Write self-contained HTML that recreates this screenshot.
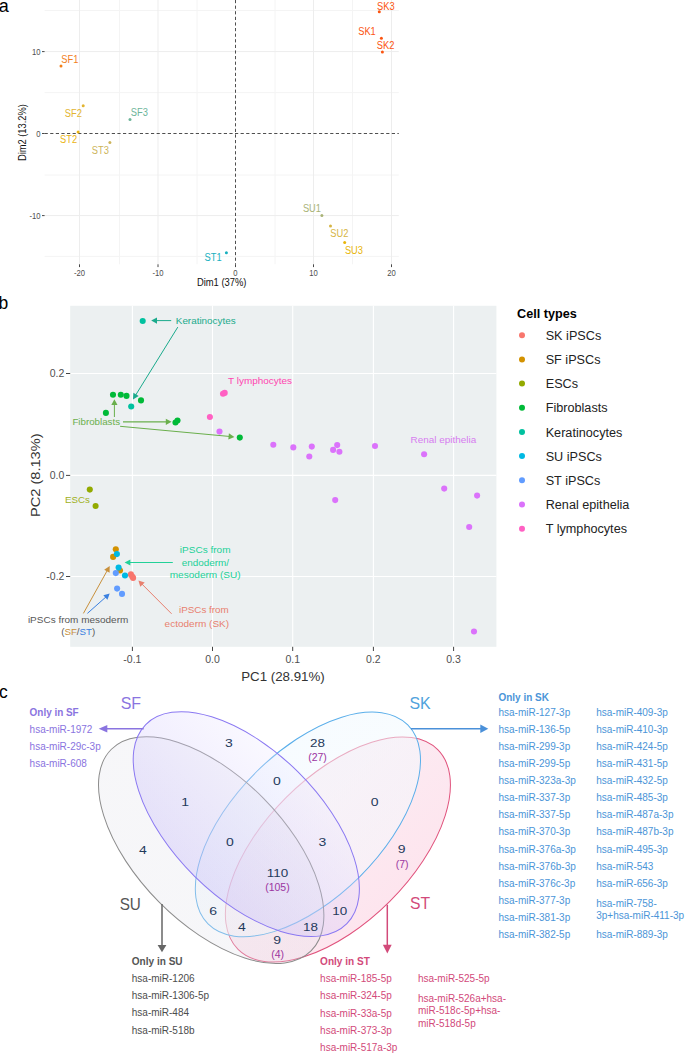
<!DOCTYPE html>
<html><head><meta charset="utf-8"><style>
html,body{margin:0;padding:0;background:#fff;}
body{width:685px;height:1053px;overflow:hidden;}
svg{display:block;font-family:"Liberation Sans",sans-serif;}
</style></head><body>
<svg width="685" height="1053" viewBox="0 0 685 1053">
<defs><linearGradient id="gSU" x1="0" y1="0" x2="0" y2="1"><stop offset="0" stop-color="#e2e2ea" stop-opacity="0.27"/><stop offset="1" stop-color="#e2e2ea" stop-opacity="0.3"/></linearGradient>
<linearGradient id="gSF" x1="0" y1="0" x2="0" y2="1"><stop offset="0" stop-color="#eeeaff" stop-opacity="0.3"/><stop offset="1" stop-color="#bcaefa" stop-opacity="0.31"/></linearGradient>
<linearGradient id="gSK" x1="0" y1="0" x2="0" y2="1"><stop offset="0" stop-color="#f0f9ff" stop-opacity="0.55"/><stop offset="1" stop-color="#f4f9fd" stop-opacity="0.5"/></linearGradient>
<linearGradient id="gST" x1="0" y1="0" x2="0" y2="1"><stop offset="0" stop-color="#fcecf3" stop-opacity="1"/><stop offset="1" stop-color="#fde5ee" stop-opacity="1"/></linearGradient></defs>
<rect width="685" height="1053" fill="#fff"/>
<g id="pa">
<line x1="119.50" y1="0.00" x2="119.50" y2="264.30" stroke="#f4f4f4" stroke-width="1"/>
<line x1="197.00" y1="0.00" x2="197.00" y2="264.30" stroke="#f4f4f4" stroke-width="1"/>
<line x1="275.00" y1="0.00" x2="275.00" y2="264.30" stroke="#f4f4f4" stroke-width="1"/>
<line x1="352.50" y1="0.00" x2="352.50" y2="264.30" stroke="#f4f4f4" stroke-width="1"/>
<line x1="44.60" y1="10.50" x2="398.80" y2="10.50" stroke="#f4f4f4" stroke-width="1"/>
<line x1="44.60" y1="92.60" x2="398.80" y2="92.60" stroke="#f4f4f4" stroke-width="1"/>
<line x1="44.60" y1="175.00" x2="398.80" y2="175.00" stroke="#f4f4f4" stroke-width="1"/>
<line x1="44.60" y1="256.40" x2="398.80" y2="256.40" stroke="#f4f4f4" stroke-width="1"/>
<line x1="79.50" y1="0.00" x2="79.50" y2="264.30" stroke="#ededed" stroke-width="1"/>
<line x1="158.00" y1="0.00" x2="158.00" y2="264.30" stroke="#ededed" stroke-width="1"/>
<line x1="313.50" y1="0.00" x2="313.50" y2="264.30" stroke="#ededed" stroke-width="1"/>
<line x1="391.50" y1="0.00" x2="391.50" y2="264.30" stroke="#ededed" stroke-width="1"/>
<line x1="44.60" y1="51.60" x2="398.80" y2="51.60" stroke="#ededed" stroke-width="1"/>
<line x1="44.60" y1="215.60" x2="398.80" y2="215.60" stroke="#ededed" stroke-width="1"/>
<line x1="235.50" y1="0.00" x2="235.50" y2="264.30" stroke="#222" stroke-width="0.8" stroke-dasharray="3.2,2.4"/>
<line x1="44.60" y1="133.50" x2="398.80" y2="133.50" stroke="#222" stroke-width="0.8" stroke-dasharray="3.2,2.4"/>
<line x1="79.50" y1="264.30" x2="79.50" y2="267.10" stroke="#333" stroke-width="0.9"/>
<text x="79.50" y="276.20" font-size="8.7" fill="#4d4d4d" text-anchor="middle" textLength="11.06" lengthAdjust="spacingAndGlyphs">-20</text>
<line x1="158.00" y1="264.30" x2="158.00" y2="267.10" stroke="#333" stroke-width="0.9"/>
<text x="158.00" y="276.20" font-size="8.7" fill="#4d4d4d" text-anchor="middle" textLength="11.06" lengthAdjust="spacingAndGlyphs">-10</text>
<line x1="235.50" y1="264.30" x2="235.50" y2="267.10" stroke="#333" stroke-width="0.9"/>
<text x="235.50" y="276.20" font-size="8.7" fill="#4d4d4d" text-anchor="middle" textLength="4.26" lengthAdjust="spacingAndGlyphs">0</text>
<line x1="313.50" y1="264.30" x2="313.50" y2="267.10" stroke="#333" stroke-width="0.9"/>
<text x="313.50" y="276.20" font-size="8.7" fill="#4d4d4d" text-anchor="middle" textLength="8.51" lengthAdjust="spacingAndGlyphs">10</text>
<line x1="391.50" y1="264.30" x2="391.50" y2="267.10" stroke="#333" stroke-width="0.9"/>
<text x="391.50" y="276.20" font-size="8.7" fill="#4d4d4d" text-anchor="middle" textLength="8.51" lengthAdjust="spacingAndGlyphs">20</text>
<line x1="42.00" y1="51.60" x2="44.60" y2="51.60" stroke="#333" stroke-width="0.9"/>
<text x="40.50" y="54.70" font-size="8.7" fill="#4d4d4d" text-anchor="end" textLength="8.51" lengthAdjust="spacingAndGlyphs">10</text>
<line x1="42.00" y1="133.50" x2="44.60" y2="133.50" stroke="#333" stroke-width="0.9"/>
<text x="40.50" y="136.60" font-size="8.7" fill="#4d4d4d" text-anchor="end" textLength="4.26" lengthAdjust="spacingAndGlyphs">0</text>
<line x1="42.00" y1="215.60" x2="44.60" y2="215.60" stroke="#333" stroke-width="0.9"/>
<text x="40.50" y="218.70" font-size="8.7" fill="#4d4d4d" text-anchor="end" textLength="11.06" lengthAdjust="spacingAndGlyphs">-10</text>
<text x="221.70" y="286.40" font-size="10" fill="#111" text-anchor="middle" textLength="49.50" lengthAdjust="spacingAndGlyphs">Dim1 (37%)</text>
<text x="26.20" y="132.60" font-size="10" fill="#111" text-anchor="middle" textLength="57.00" lengthAdjust="spacingAndGlyphs" transform="rotate(-90 26.20 132.60)">Dim2 (13.2%)</text>
<text x="-1.20" y="11.80" font-size="18" fill="#000">a</text>
<circle cx="379.30" cy="11.75" r="1.5" fill="#fb5410"/>
<text x="377.00" y="10.20" font-size="10" fill="#fb5410" textLength="17.59" lengthAdjust="spacingAndGlyphs">SK3</text>
<circle cx="381.40" cy="38.30" r="1.5" fill="#fb5410"/>
<text x="358.20" y="34.70" font-size="10" fill="#fb5410" textLength="17.59" lengthAdjust="spacingAndGlyphs">SK1</text>
<circle cx="382.40" cy="52.10" r="1.5" fill="#fb5410"/>
<text x="376.80" y="49.00" font-size="10" fill="#fb5410" textLength="17.59" lengthAdjust="spacingAndGlyphs">SK2</text>
<circle cx="61.00" cy="66.00" r="1.5" fill="#f2801c"/>
<text x="61.30" y="63.00" font-size="10" fill="#f2801c" textLength="17.07" lengthAdjust="spacingAndGlyphs">SF1</text>
<circle cx="83.20" cy="105.80" r="1.5" fill="#e2b431"/>
<text x="64.80" y="116.70" font-size="10" fill="#e2b431" textLength="17.07" lengthAdjust="spacingAndGlyphs">SF2</text>
<circle cx="130.00" cy="119.40" r="1.5" fill="#6db59a"/>
<text x="130.80" y="115.90" font-size="10" fill="#6db59a" textLength="17.07" lengthAdjust="spacingAndGlyphs">SF3</text>
<circle cx="78.10" cy="132.00" r="1.5" fill="#eab413"/>
<text x="60.00" y="143.20" font-size="10" fill="#eab413" textLength="17.07" lengthAdjust="spacingAndGlyphs">ST2</text>
<circle cx="109.90" cy="142.40" r="1.5" fill="#cdb55c"/>
<text x="91.80" y="153.60" font-size="10" fill="#cdb55c" textLength="17.07" lengthAdjust="spacingAndGlyphs">ST3</text>
<circle cx="321.90" cy="215.60" r="1.5" fill="#a9b377"/>
<text x="302.90" y="212.30" font-size="10" fill="#a9b377" textLength="18.10" lengthAdjust="spacingAndGlyphs">SU1</text>
<circle cx="330.50" cy="226.10" r="1.5" fill="#d6b545"/>
<text x="330.30" y="236.80" font-size="10" fill="#d6b545" textLength="18.10" lengthAdjust="spacingAndGlyphs">SU2</text>
<circle cx="344.70" cy="242.60" r="1.5" fill="#e8b50a"/>
<text x="344.90" y="253.50" font-size="10" fill="#e8b50a" textLength="18.10" lengthAdjust="spacingAndGlyphs">SU3</text>
<circle cx="226.40" cy="252.70" r="1.5" fill="#17b0bf"/>
<text x="204.60" y="261.40" font-size="10" fill="#17b0bf" textLength="17.07" lengthAdjust="spacingAndGlyphs">ST1</text>
</g>
<g id="pb">
<rect x="70.2" y="305.8" width="426.20" height="341.00" fill="#ecf0f1"/>
<line x1="132.40" y1="305.80" x2="132.40" y2="646.80" stroke="#fff" stroke-width="1.1"/>
<line x1="212.50" y1="305.80" x2="212.50" y2="646.80" stroke="#fff" stroke-width="1.1"/>
<line x1="292.70" y1="305.80" x2="292.70" y2="646.80" stroke="#fff" stroke-width="1.1"/>
<line x1="373.40" y1="305.80" x2="373.40" y2="646.80" stroke="#fff" stroke-width="1.1"/>
<line x1="453.60" y1="305.80" x2="453.60" y2="646.80" stroke="#fff" stroke-width="1.1"/>
<line x1="70.20" y1="373.50" x2="496.40" y2="373.50" stroke="#fff" stroke-width="1.1"/>
<line x1="70.20" y1="475.40" x2="496.40" y2="475.40" stroke="#fff" stroke-width="1.1"/>
<line x1="70.20" y1="576.50" x2="496.40" y2="576.50" stroke="#fff" stroke-width="1.1"/>
<line x1="132.40" y1="646.80" x2="132.40" y2="651.00" stroke="#444" stroke-width="1"/>
<text x="132.40" y="662.80" font-size="10.5" fill="#505050" text-anchor="middle">-0.1</text>
<line x1="212.50" y1="646.80" x2="212.50" y2="651.00" stroke="#444" stroke-width="1"/>
<text x="212.50" y="662.80" font-size="10.5" fill="#505050" text-anchor="middle">0.0</text>
<line x1="292.70" y1="646.80" x2="292.70" y2="651.00" stroke="#444" stroke-width="1"/>
<text x="292.70" y="662.80" font-size="10.5" fill="#505050" text-anchor="middle">0.1</text>
<line x1="373.40" y1="646.80" x2="373.40" y2="651.00" stroke="#444" stroke-width="1"/>
<text x="373.40" y="662.80" font-size="10.5" fill="#505050" text-anchor="middle">0.2</text>
<line x1="453.60" y1="646.80" x2="453.60" y2="651.00" stroke="#444" stroke-width="1"/>
<text x="453.60" y="662.80" font-size="10.5" fill="#505050" text-anchor="middle">0.3</text>
<line x1="66.00" y1="373.50" x2="70.20" y2="373.50" stroke="#444" stroke-width="1"/>
<text x="64.40" y="377.20" font-size="10.5" fill="#505050" text-anchor="end">0.2</text>
<line x1="66.00" y1="475.40" x2="70.20" y2="475.40" stroke="#444" stroke-width="1"/>
<text x="64.40" y="479.10" font-size="10.5" fill="#505050" text-anchor="end">0.0</text>
<line x1="66.00" y1="576.50" x2="70.20" y2="576.50" stroke="#444" stroke-width="1"/>
<text x="64.40" y="580.20" font-size="10.5" fill="#505050" text-anchor="end">-0.2</text>
<text x="283.00" y="680.60" font-size="12.8" fill="#333" text-anchor="middle" textLength="83.60" lengthAdjust="spacingAndGlyphs">PC1 (28.91%)</text>
<text x="39.80" y="475.20" font-size="12.8" fill="#333" text-anchor="middle" textLength="83.60" lengthAdjust="spacingAndGlyphs" transform="rotate(-90 39.80 475.20)">PC2 (8.13%)</text>
<text x="-1.60" y="308.80" font-size="17.5" fill="#000">b</text>
<circle cx="130.90" cy="574.40" r="3.05" fill="#f8766d"/>
<circle cx="132.20" cy="576.60" r="3.05" fill="#f8766d"/>
<circle cx="133.10" cy="577.90" r="3.05" fill="#f8766d"/>
<circle cx="115.80" cy="549.20" r="3.05" fill="#d39200"/>
<circle cx="113.10" cy="556.90" r="3.05" fill="#d39200"/>
<circle cx="120.00" cy="570.50" r="3.05" fill="#d39200"/>
<circle cx="89.80" cy="489.60" r="3.05" fill="#93aa00"/>
<circle cx="95.60" cy="506.00" r="3.05" fill="#93aa00"/>
<circle cx="113.00" cy="394.80" r="3.05" fill="#00ba38"/>
<circle cx="120.80" cy="394.80" r="3.05" fill="#00ba38"/>
<circle cx="126.50" cy="395.90" r="3.05" fill="#00ba38"/>
<circle cx="141.00" cy="400.40" r="3.05" fill="#00ba38"/>
<circle cx="105.90" cy="412.90" r="3.05" fill="#00ba38"/>
<circle cx="175.50" cy="422.50" r="3.05" fill="#00ba38"/>
<circle cx="177.50" cy="420.50" r="3.05" fill="#00ba38"/>
<circle cx="239.80" cy="437.60" r="3.05" fill="#00ba38"/>
<circle cx="142.70" cy="321.00" r="3.05" fill="#00c19f"/>
<circle cx="131.20" cy="406.50" r="3.05" fill="#00c19f"/>
<circle cx="116.90" cy="554.10" r="3.05" fill="#00b9e3"/>
<circle cx="118.60" cy="567.60" r="3.05" fill="#00b9e3"/>
<circle cx="125.00" cy="575.50" r="3.05" fill="#00b9e3"/>
<circle cx="115.80" cy="573.10" r="3.05" fill="#619cff"/>
<circle cx="117.10" cy="588.60" r="3.05" fill="#619cff"/>
<circle cx="122.00" cy="593.90" r="3.05" fill="#619cff"/>
<circle cx="219.50" cy="431.60" r="3.05" fill="#db72fb"/>
<circle cx="273.30" cy="444.80" r="3.05" fill="#db72fb"/>
<circle cx="293.30" cy="447.40" r="3.05" fill="#db72fb"/>
<circle cx="311.80" cy="446.60" r="3.05" fill="#db72fb"/>
<circle cx="309.30" cy="456.50" r="3.05" fill="#db72fb"/>
<circle cx="333.10" cy="449.90" r="3.05" fill="#db72fb"/>
<circle cx="337.20" cy="445.10" r="3.05" fill="#db72fb"/>
<circle cx="339.40" cy="451.80" r="3.05" fill="#db72fb"/>
<circle cx="375.00" cy="446.00" r="3.05" fill="#db72fb"/>
<circle cx="424.10" cy="454.30" r="3.05" fill="#db72fb"/>
<circle cx="444.20" cy="488.60" r="3.05" fill="#db72fb"/>
<circle cx="477.10" cy="495.60" r="3.05" fill="#db72fb"/>
<circle cx="469.20" cy="527.00" r="3.05" fill="#db72fb"/>
<circle cx="335.20" cy="500.10" r="3.05" fill="#db72fb"/>
<circle cx="474.00" cy="631.50" r="3.05" fill="#db72fb"/>
<circle cx="209.90" cy="417.00" r="3.05" fill="#ff61c3"/>
<circle cx="223.00" cy="393.80" r="3.05" fill="#ff61c3"/>
<circle cx="224.70" cy="392.90" r="3.05" fill="#ff61c3"/>
<text x="175.80" y="323.90" font-size="9.8" fill="#1aaa8c" textLength="59.80" lengthAdjust="spacingAndGlyphs">Keratinocytes</text>
<line x1="171.20" y1="320.60" x2="156.00" y2="320.60" stroke="#1aaa8c" stroke-width="1"/>
<path d="M151.20,320.60 L157.00,317.50 L157.00,323.70 Z" fill="#1aaa8c"/>
<line x1="177.80" y1="327.10" x2="135.53" y2="395.32" stroke="#1aaa8c" stroke-width="1"/>
<path d="M133.00,399.40 L133.42,392.84 L138.69,396.10 Z" fill="#1aaa8c"/>
<text x="72.40" y="425.00" font-size="9.8" fill="#6aaf4c" textLength="47.70" lengthAdjust="spacingAndGlyphs">Fibroblasts</text>
<line x1="114.40" y1="417.00" x2="114.40" y2="404.00" stroke="#6aaf4c" stroke-width="1"/>
<path d="M114.40,399.20 L117.50,405.00 L111.30,405.00 Z" fill="#6aaf4c"/>
<line x1="123.00" y1="421.80" x2="166.80" y2="421.80" stroke="#6aaf4c" stroke-width="1.3"/>
<path d="M171.60,421.80 L165.80,424.90 L165.80,418.70 Z" fill="#6aaf4c"/>
<line x1="120.10" y1="426.30" x2="229.62" y2="436.46" stroke="#6aaf4c" stroke-width="1"/>
<path d="M234.40,436.90 L228.34,439.45 L228.91,433.28 Z" fill="#6aaf4c"/>
<text x="228.10" y="384.30" font-size="9.9" fill="#ff45b0" textLength="63.90" lengthAdjust="spacingAndGlyphs">T lymphocytes</text>
<text x="410.60" y="442.70" font-size="9.9" fill="#d77cf0" textLength="65.60" lengthAdjust="spacingAndGlyphs">Renal epithelia</text>
<text x="65.10" y="502.80" font-size="9.8" fill="#9fb01c" textLength="24.80" lengthAdjust="spacingAndGlyphs">ESCs</text>
<text x="205.20" y="553.40" font-size="9.8" fill="#22d198" text-anchor="middle" textLength="50.70" lengthAdjust="spacingAndGlyphs">iPSCs from</text>
<text x="205.40" y="565.50" font-size="9.8" fill="#22d198" text-anchor="middle" textLength="47.40" lengthAdjust="spacingAndGlyphs">endoderm/</text>
<text x="205.20" y="577.70" font-size="9.8" fill="#22d198" text-anchor="middle" textLength="71.00" lengthAdjust="spacingAndGlyphs">mesoderm (SU)</text>
<line x1="172.80" y1="562.50" x2="129.40" y2="562.50" stroke="#22d198" stroke-width="1"/>
<path d="M124.60,562.50 L130.40,559.40 L130.40,565.60 Z" fill="#22d198"/>
<text x="228.80" y="613.40" font-size="9.8" fill="#e8806f" text-anchor="end" textLength="49.80" lengthAdjust="spacingAndGlyphs">iPSCs from</text>
<text x="229.10" y="626.60" font-size="9.8" fill="#e8806f" text-anchor="end" textLength="64.50" lengthAdjust="spacingAndGlyphs">ectoderm (SK)</text>
<line x1="171.60" y1="613.80" x2="141.79" y2="583.90" stroke="#e8806f" stroke-width="1"/>
<path d="M138.40,580.50 L144.69,582.42 L140.30,586.80 Z" fill="#e8806f"/>
<text x="78.10" y="622.70" font-size="9.8" fill="#585858" text-anchor="middle" textLength="100.40" lengthAdjust="spacingAndGlyphs">iPSCs from mesoderm</text>
<text x="78.2" y="635.0" font-size="9.8" fill="#585858" text-anchor="middle" textLength="34.1" lengthAdjust="spacingAndGlyphs">(<tspan fill="#c8903c">SF</tspan>/<tspan fill="#3a80e0">ST</tspan>)</text>
<line x1="83.40" y1="613.40" x2="107.37" y2="570.30" stroke="#c8903c" stroke-width="1"/>
<path d="M109.70,566.10 L109.59,572.68 L104.17,569.66 Z" fill="#c8903c"/>
<line x1="87.40" y1="613.40" x2="106.11" y2="596.79" stroke="#3a80e0" stroke-width="1"/>
<path d="M109.70,593.60 L107.42,599.77 L103.30,595.13 Z" fill="#3a80e0"/>
<text x="517.10" y="318.00" font-size="12.5" fill="#000" font-weight="bold" textLength="59.70" lengthAdjust="spacingAndGlyphs">Cell types</text>
<circle cx="522.00" cy="335.20" r="3.0" fill="#f8766d"/>
<text x="545.70" y="339.90" font-size="12.5" fill="#222" textLength="55.54" lengthAdjust="spacingAndGlyphs">SK iPSCs</text>
<circle cx="522.00" cy="359.38" r="3.0" fill="#d39200"/>
<text x="545.70" y="364.08" font-size="12.5" fill="#222" textLength="54.83" lengthAdjust="spacingAndGlyphs">SF iPSCs</text>
<circle cx="522.00" cy="383.56" r="3.0" fill="#93aa00"/>
<text x="545.70" y="388.26" font-size="12.5" fill="#222" textLength="32.34" lengthAdjust="spacingAndGlyphs">ESCs</text>
<circle cx="522.00" cy="407.74" r="3.0" fill="#00ba38"/>
<text x="545.70" y="412.44" font-size="12.5" fill="#222" textLength="61.86" lengthAdjust="spacingAndGlyphs">Fibroblasts</text>
<circle cx="522.00" cy="431.92" r="3.0" fill="#00c19f"/>
<text x="545.70" y="436.62" font-size="12.5" fill="#222" textLength="76.64" lengthAdjust="spacingAndGlyphs">Keratinocytes</text>
<circle cx="522.00" cy="456.10" r="3.0" fill="#00b9e3"/>
<text x="545.70" y="460.80" font-size="12.5" fill="#222" textLength="56.24" lengthAdjust="spacingAndGlyphs">SU iPSCs</text>
<circle cx="522.00" cy="480.28" r="3.0" fill="#619cff"/>
<text x="545.70" y="484.98" font-size="12.5" fill="#222" textLength="54.60" lengthAdjust="spacingAndGlyphs">ST iPSCs</text>
<circle cx="522.00" cy="504.46" r="3.0" fill="#db72fb"/>
<text x="545.70" y="509.16" font-size="12.5" fill="#222" textLength="83.68" lengthAdjust="spacingAndGlyphs">Renal epithelia</text>
<circle cx="522.00" cy="528.64" r="3.0" fill="#ff61c3"/>
<text x="545.70" y="533.34" font-size="12.5" fill="#222" textLength="81.31" lengthAdjust="spacingAndGlyphs">T lymphocytes</text>
</g>
<g id="pc">
<text x="-1.00" y="697.60" font-size="17.5" fill="#000">c</text>
<ellipse cx="337.9" cy="849.5" rx="141.2" ry="73.4" transform="rotate(-45.0 337.9 849.5)" fill="url(#gST)" stroke="#e0527c" stroke-width="1"/>
<ellipse cx="307.9" cy="824.4" rx="141.0" ry="73.6" transform="rotate(-44.9 307.9 824.4)" fill="url(#gSK)" stroke="#5aaeea" stroke-width="1"/>
<ellipse cx="211.2" cy="850.1" rx="141.9" ry="73.6" transform="rotate(45.3 211.2 850.1)" fill="url(#gSU)" stroke="#8c8c8c" stroke-width="1"/>
<ellipse cx="246.3" cy="824.1" rx="141.5" ry="73.5" transform="rotate(44.7 246.3 824.1)" fill="url(#gSF)" stroke="#8a78f2" stroke-width="1"/>
<text x="228.80" y="746.90" font-size="11.2" fill="#1f3a5c" text-anchor="middle" textLength="7.79" lengthAdjust="spacingAndGlyphs">3</text>
<text x="317.50" y="747.20" font-size="11.2" fill="#1f3a5c" text-anchor="middle" textLength="14.95" lengthAdjust="spacingAndGlyphs">28</text>
<text x="276.80" y="784.70" font-size="11.2" fill="#1f3a5c" text-anchor="middle" textLength="7.79" lengthAdjust="spacingAndGlyphs">0</text>
<text x="185.10" y="805.80" font-size="11.2" fill="#1f3a5c" text-anchor="middle" textLength="7.79" lengthAdjust="spacingAndGlyphs">1</text>
<text x="374.70" y="805.80" font-size="11.2" fill="#1f3a5c" text-anchor="middle" textLength="7.79" lengthAdjust="spacingAndGlyphs">0</text>
<text x="142.90" y="854.00" font-size="11.2" fill="#1f3a5c" text-anchor="middle" textLength="7.79" lengthAdjust="spacingAndGlyphs">4</text>
<text x="229.90" y="845.60" font-size="11.2" fill="#1f3a5c" text-anchor="middle" textLength="7.79" lengthAdjust="spacingAndGlyphs">0</text>
<text x="322.40" y="845.60" font-size="11.2" fill="#1f3a5c" text-anchor="middle" textLength="7.79" lengthAdjust="spacingAndGlyphs">3</text>
<text x="401.70" y="852.90" font-size="11.2" fill="#1f3a5c" text-anchor="middle" textLength="7.79" lengthAdjust="spacingAndGlyphs">9</text>
<text x="277.40" y="876.90" font-size="11.2" fill="#1f3a5c" text-anchor="middle" textLength="21.42" lengthAdjust="spacingAndGlyphs">110</text>
<text x="213.10" y="915.00" font-size="11.2" fill="#1f3a5c" text-anchor="middle" textLength="7.79" lengthAdjust="spacingAndGlyphs">6</text>
<text x="339.70" y="915.10" font-size="11.2" fill="#1f3a5c" text-anchor="middle" textLength="14.95" lengthAdjust="spacingAndGlyphs">10</text>
<text x="242.00" y="931.00" font-size="11.2" fill="#1f3a5c" text-anchor="middle" textLength="7.79" lengthAdjust="spacingAndGlyphs">4</text>
<text x="310.50" y="930.60" font-size="11.2" fill="#1f3a5c" text-anchor="middle" textLength="14.95" lengthAdjust="spacingAndGlyphs">18</text>
<text x="277.10" y="943.60" font-size="11.2" fill="#1f3a5c" text-anchor="middle" textLength="7.79" lengthAdjust="spacingAndGlyphs">9</text>
<text x="317.50" y="760.80" font-size="10.5" fill="#9b35a0" text-anchor="middle">(27)</text>
<text x="402.20" y="867.70" font-size="10.5" fill="#9b35a0" text-anchor="middle">(7)</text>
<text x="277.40" y="891.10" font-size="10.5" fill="#9b35a0" text-anchor="middle">(105)</text>
<text x="277.60" y="957.90" font-size="10.5" fill="#9b35a0" text-anchor="middle">(4)</text>
<text x="120.70" y="708.60" font-size="16.5" fill="#8a74e0" textLength="20.40" lengthAdjust="spacingAndGlyphs">SF</text>
<text x="409.50" y="708.70" font-size="16.5" fill="#4fa2dc" textLength="21.20" lengthAdjust="spacingAndGlyphs">SK</text>
<text x="119.70" y="909.60" font-size="16.5" fill="#555" textLength="21.20" lengthAdjust="spacingAndGlyphs">SU</text>
<text x="410.10" y="909.30" font-size="16.5" fill="#d24a7a" textLength="20.10" lengthAdjust="spacingAndGlyphs">ST</text>
<line x1="143.70" y1="728.80" x2="106.30" y2="728.80" stroke="#8a74e0" stroke-width="1.5"/>
<path d="M98.70,728.80 L107.30,725.00 L107.30,732.60 Z" fill="#8a74e0"/>
<line x1="411.00" y1="728.70" x2="481.30" y2="728.70" stroke="#4a90d9" stroke-width="1.5"/>
<path d="M488.30,728.70 L480.30,732.90 L480.30,724.50 Z" fill="#4a90d9"/>
<line x1="162.00" y1="904.10" x2="162.00" y2="946.00" stroke="#666" stroke-width="1.5"/>
<path d="M162.00,952.30 L157.60,945.00 L166.40,945.00 Z" fill="#666"/>
<line x1="387.30" y1="904.70" x2="387.30" y2="945.70" stroke="#d24a7a" stroke-width="1.5"/>
<path d="M387.30,953.40 L382.90,944.70 L391.70,944.70 Z" fill="#d24a7a"/>
<text x="29.60" y="716.40" font-size="10" fill="#8a74e0" font-weight="bold" textLength="49.10" lengthAdjust="spacingAndGlyphs">Only in SF</text>
<text x="29.60" y="733.10" font-size="10" fill="#8a74e0">hsa-miR-1972</text>
<text x="29.60" y="750.10" font-size="10" fill="#8a74e0">hsa-miR-29c-3p</text>
<text x="29.60" y="767.10" font-size="10" fill="#8a74e0">hsa-miR-608</text>
<text x="498.50" y="700.70" font-size="10" fill="#4b95d8" font-weight="bold" textLength="50.40" lengthAdjust="spacingAndGlyphs">Only in SK</text>
<text x="498.50" y="715.70" font-size="10" fill="#4b95d8">hsa-miR-127-3p</text>
<text x="498.50" y="732.80" font-size="10" fill="#4b95d8">hsa-miR-136-5p</text>
<text x="498.50" y="749.90" font-size="10" fill="#4b95d8">hsa-miR-299-3p</text>
<text x="498.50" y="767.00" font-size="10" fill="#4b95d8">hsa-miR-299-5p</text>
<text x="498.50" y="784.10" font-size="10" fill="#4b95d8">hsa-miR-323a-3p</text>
<text x="498.50" y="801.20" font-size="10" fill="#4b95d8">hsa-miR-337-3p</text>
<text x="498.50" y="818.30" font-size="10" fill="#4b95d8">hsa-miR-337-5p</text>
<text x="498.50" y="835.40" font-size="10" fill="#4b95d8">hsa-miR-370-3p</text>
<text x="498.50" y="852.50" font-size="10" fill="#4b95d8">hsa-miR-376a-3p</text>
<text x="498.50" y="869.60" font-size="10" fill="#4b95d8">hsa-miR-376b-3p</text>
<text x="498.50" y="886.70" font-size="10" fill="#4b95d8">hsa-miR-376c-3p</text>
<text x="498.50" y="903.80" font-size="10" fill="#4b95d8">hsa-miR-377-3p</text>
<text x="498.50" y="920.90" font-size="10" fill="#4b95d8">hsa-miR-381-3p</text>
<text x="498.50" y="938.00" font-size="10" fill="#4b95d8">hsa-miR-382-5p</text>
<text x="596.20" y="715.70" font-size="10" fill="#4b95d8">hsa-miR-409-3p</text>
<text x="596.20" y="732.80" font-size="10" fill="#4b95d8">hsa-miR-410-3p</text>
<text x="596.20" y="749.90" font-size="10" fill="#4b95d8">hsa-miR-424-5p</text>
<text x="596.20" y="767.00" font-size="10" fill="#4b95d8">hsa-miR-431-5p</text>
<text x="596.20" y="784.10" font-size="10" fill="#4b95d8">hsa-miR-432-5p</text>
<text x="596.20" y="801.20" font-size="10" fill="#4b95d8">hsa-miR-485-3p</text>
<text x="596.20" y="818.30" font-size="10" fill="#4b95d8">hsa-miR-487a-3p</text>
<text x="596.20" y="835.40" font-size="10" fill="#4b95d8">hsa-miR-487b-3p</text>
<text x="596.20" y="852.50" font-size="10" fill="#4b95d8">hsa-miR-495-3p</text>
<text x="596.20" y="869.60" font-size="10" fill="#4b95d8">hsa-miR-543</text>
<text x="596.20" y="886.70" font-size="10" fill="#4b95d8">hsa-miR-656-3p</text>
<text x="596.20" y="938.00" font-size="10" fill="#4b95d8">hsa-miR-889-3p</text>
<text x="596.20" y="906.60" font-size="10" fill="#4b95d8">hsa-miR-758-</text>
<text x="596.20" y="918.80" font-size="10" fill="#4b95d8">3p+hsa-miR-411-3p</text>
<text x="131.80" y="965.20" font-size="10" fill="#555" font-weight="bold" textLength="50.80" lengthAdjust="spacingAndGlyphs">Only in SU</text>
<text x="131.80" y="982.20" font-size="10" fill="#4d4d4d">hsa-miR-1206</text>
<text x="131.80" y="999.30" font-size="10" fill="#4d4d4d">hsa-miR-1306-5p</text>
<text x="131.80" y="1016.40" font-size="10" fill="#4d4d4d">hsa-miR-484</text>
<text x="131.80" y="1033.50" font-size="10" fill="#4d4d4d">hsa-miR-518b</text>
<text x="320.10" y="965.30" font-size="10" fill="#d24a7a" font-weight="bold" textLength="49.70" lengthAdjust="spacingAndGlyphs">Only in ST</text>
<text x="320.10" y="982.20" font-size="10" fill="#d24a7a">hsa-miR-185-5p</text>
<text x="320.10" y="999.45" font-size="10" fill="#d24a7a">hsa-miR-324-5p</text>
<text x="320.10" y="1016.70" font-size="10" fill="#d24a7a">hsa-miR-33a-5p</text>
<text x="320.10" y="1033.95" font-size="10" fill="#d24a7a">hsa-miR-373-3p</text>
<text x="320.10" y="1051.20" font-size="10" fill="#d24a7a">hsa-miR-517a-3p</text>
<text x="417.90" y="982.20" font-size="10" fill="#d24a7a">hsa-miR-525-5p</text>
<text x="417.90" y="1002.10" font-size="10" fill="#d24a7a">hsa-miR-526a+hsa-</text>
<text x="417.90" y="1014.40" font-size="10" fill="#d24a7a">miR-518c-5p+hsa-</text>
<text x="417.90" y="1026.60" font-size="10" fill="#d24a7a">miR-518d-5p</text>
</g>
</svg>
</body></html>
